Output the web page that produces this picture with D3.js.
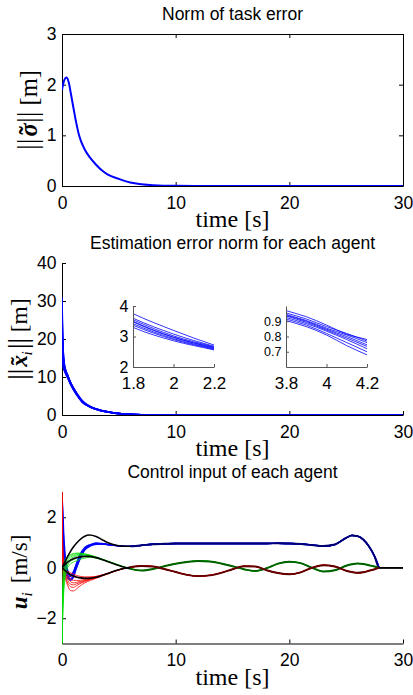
<!DOCTYPE html>
<html><head><meta charset="utf-8">
<script src="https://cdn.jsdelivr.net/npm/d3@7"></script>
<style>body{margin:0;background:#fff}</style>
</head><body>
<svg id="c" width="413" height="695"></svg>
<script>
// ---------- DATA ----------
// Panel 1: norm of task error
const t1 = [0, 0.2, 0.4, 0.6, 0.8, 1.0, 1.25, 1.5, 2, 2.5, 3, 3.5, 4, 5, 6, 7, 8, 10, 15, 30];
const sigmaNorm = [1.9, 2.09, 2.14, 2.04, 1.8, 1.55, 1.25, 1.0, 0.72, 0.55, 0.42, 0.31, 0.23, 0.14, 0.07, 0.035, 0.016, 0.004, 0, 0];

// Panel 2: estimation error norm for each agent
const t2 = [0, 0.05, 0.15, 0.3, 0.5, 0.75, 1, 1.4, 1.8, 2.0, 2.2, 2.6, 3.0, 3.4, 3.8, 3.9, 4.0, 4.1, 4.2, 4.6, 5, 5.5, 6, 7, 8, 10, 30];
const estAgent1 = [31, 22, 15, 12, 10.5, 8.6, 7.2, 5.3, 3.75, 3.2, 2.72, 2.05, 1.6, 1.22, 0.97, 0.93, 0.875, 0.815, 0.78, 0.55, 0.4, 0.26, 0.17, 0.07, 0.03, 0.005, 0];
const estAgent2 = [29, 21, 14.5, 11.5, 10.2, 8.4, 7.0, 5.1, 3.6, 3.08, 2.68, 2.02, 1.58, 1.2, 0.955, 0.915, 0.865, 0.82, 0.77, 0.54, 0.39, 0.25, 0.165, 0.068, 0.03, 0.005, 0];
const estAgent3 = [27, 20, 14, 11.5, 10.0, 8.3, 6.9, 5.0, 3.55, 3.02, 2.66, 2.0, 1.56, 1.19, 0.945, 0.905, 0.855, 0.81, 0.76, 0.535, 0.385, 0.25, 0.16, 0.066, 0.028, 0.005, 0];
const estAgent4 = [25, 19, 13.5, 11.8, 10.3, 8.4, 7.0, 5.1, 3.5, 2.98, 2.64, 1.99, 1.55, 1.18, 0.94, 0.9, 0.848, 0.8, 0.745, 0.53, 0.38, 0.245, 0.16, 0.065, 0.028, 0.004, 0];
const estAgent5 = [22, 18, 13.5, 12, 10.4, 8.5, 7.1, 5.2, 3.48, 2.97, 2.62, 1.98, 1.54, 1.17, 0.935, 0.893, 0.842, 0.79, 0.735, 0.52, 0.375, 0.24, 0.155, 0.064, 0.027, 0.004, 0];
const estAgent6 = [20, 17, 13, 11.2, 9.9, 8.2, 6.8, 4.9, 3.42, 2.93, 2.6, 1.96, 1.53, 1.16, 0.925, 0.885, 0.835, 0.78, 0.72, 0.51, 0.37, 0.24, 0.155, 0.063, 0.027, 0.004, 0];
const estAgent7 = [18, 16, 12.5, 11, 9.8, 8.1, 6.7, 4.85, 3.37, 2.9, 2.58, 1.95, 1.52, 1.15, 0.915, 0.875, 0.82, 0.76, 0.7, 0.5, 0.36, 0.235, 0.15, 0.062, 0.026, 0.004, 0];
const estAgent8 = [15, 14, 12, 11.5, 10, 8.3, 6.9, 5.0, 3.3, 2.86, 2.56, 1.94, 1.5, 1.14, 0.905, 0.865, 0.81, 0.74, 0.68, 0.49, 0.35, 0.23, 0.15, 0.06, 0.025, 0.004, 0];

// Panel 3: control input — reference (black) components
const t3ref = [0, 0.25, 0.5, 0.75, 1, 1.5, 2, 2.4, 3, 3.5, 4, 4.5, 5, 5.5, 6, 7, 8, 9, 10, 11, 12, 13, 14, 15, 16, 17, 18, 19, 20, 21, 22, 23, 24, 25, 25.5, 26, 26.5, 27, 27.5, 27.9, 30];
const refX = [0, 0.22, 0.45, 0.65, 0.82, 1.08, 1.25, 1.3, 1.24, 1.12, 1.0, 0.92, 0.87, 0.85, 0.85, 0.89, 0.93, 0.95, 0.96, 0.96, 0.96, 0.96, 0.96, 0.96, 0.96, 0.96, 0.96, 0.97, 0.96, 0.94, 0.9, 0.86, 0.92, 1.18, 1.28, 1.25, 1.12, 0.85, 0.45, 0, 0];
const refY = [0, 0.12, 0.22, 0.3, 0.36, 0.42, 0.45, 0.45, 0.4, 0.33, 0.25, 0.17, 0.09, 0.02, -0.04, -0.11, -0.05, 0.06, 0.16, 0.23, 0.27, 0.25, 0.17, 0.06, -0.06, -0.13, -0.02, 0.16, 0.24, 0.18, 0.0, -0.15, -0.1, 0.08, 0.14, 0.17, 0.15, 0.1, 0.05, 0, 0];
const refZ = [0, -0.1, -0.2, -0.27, -0.33, -0.39, -0.42, -0.42, -0.38, -0.31, -0.23, -0.15, -0.08, -0.02, 0.02, 0.07, 0.05, -0.05, -0.17, -0.28, -0.33, -0.3, -0.2, -0.06, 0.06, 0.05, -0.1, -0.21, -0.26, -0.18, 0.0, 0.1, 0.05, -0.12, -0.17, -0.2, -0.18, -0.12, -0.06, 0, 0];

// Panel 3: agents' transient (they follow the reference afterwards)
const t3agent = [0, 0.05, 0.15, 0.3, 0.5, 0.75, 1, 1.25, 1.5, 2, 2.5, 3, 3.5, 4, 5, 6];
const blueAgents = [
  [0.2, 2.0, 1.0, 0.2, -0.2, -0.35, -0.2, 0.1, 0.4, 0.76, 0.9, 0.96, 0.95, 0.92, 0.87, 0.85],
  [0.1, 1.5, 0.7, 0.0, -0.3, -0.45, -0.3, 0.0, 0.3, 0.72, 0.88, 0.95, 0.95, 0.92, 0.87, 0.85],
  [0.3, 2.6, 1.4, 0.4, -0.1, -0.3, -0.15, 0.15, 0.45, 0.8, 0.92, 0.98, 0.96, 0.93, 0.87, 0.85],
  [0.0, 1.0, 0.4, -0.15, -0.4, -0.5, -0.38, -0.05, 0.25, 0.7, 0.86, 0.93, 0.94, 0.91, 0.87, 0.85]
];
const greenAgents = [
  [-3.2, -1.0, 0.1, 0.35, 0.45, 0.52, 0.56, 0.58, 0.58, 0.55, 0.5, 0.43, 0.35, 0.27, 0.1, -0.04],
  [-3.0, -1.3, -0.2, 0.2, 0.38, 0.48, 0.53, 0.55, 0.56, 0.54, 0.49, 0.42, 0.34, 0.26, 0.1, -0.04],
  [-3.1, -1.5, -0.4, 0.05, 0.3, 0.42, 0.48, 0.51, 0.53, 0.52, 0.48, 0.41, 0.34, 0.26, 0.1, -0.04],
  [-2.9, -1.8, -0.6, -0.1, 0.2, 0.35, 0.42, 0.46, 0.49, 0.5, 0.47, 0.41, 0.33, 0.26, 0.1, -0.04],
  [-3.3, -2.0, -0.8, -0.2, 0.1, 0.25, 0.32, 0.37, 0.41, 0.45, 0.45, 0.4, 0.33, 0.26, 0.1, -0.04],
  [-3.0, -2.2, -1.0, -0.35, 0.0, 0.15, 0.22, 0.27, 0.32, 0.38, 0.41, 0.38, 0.32, 0.25, 0.1, -0.04]
];
const redAgents = [
  [3.2, 1.2, 0.1, -0.4, -0.7, -0.9, -0.92, -0.85, -0.75, -0.6, -0.5, -0.42, -0.33, -0.25, -0.09, 0.02],
  [3.0, 1.0, 0.0, -0.35, -0.6, -0.75, -0.78, -0.72, -0.65, -0.55, -0.47, -0.4, -0.32, -0.24, -0.08, 0.02],
  [3.1, 0.8, -0.1, -0.3, -0.5, -0.65, -0.68, -0.64, -0.6, -0.52, -0.45, -0.39, -0.31, -0.24, -0.08, 0.02],
  [2.8, 0.6, -0.2, -0.25, -0.4, -0.55, -0.6, -0.58, -0.55, -0.5, -0.43, -0.38, -0.31, -0.23, -0.08, 0.02],
  [3.3, 0.5, -0.3, -0.2, -0.3, -0.45, -0.5, -0.5, -0.5, -0.46, -0.41, -0.37, -0.3, -0.23, -0.08, 0.02],
  [2.5, 0.3, -0.5, -0.1, -0.2, -0.3, -0.35, -0.38, -0.4, -0.4, -0.38, -0.35, -0.29, -0.23, -0.08, 0.02],
  [-0.8, -0.5, -0.3, -0.15, -0.15, -0.2, -0.25, -0.3, -0.33, -0.36, -0.36, -0.34, -0.29, -0.22, -0.08, 0.02]
];

const xTicks = [0, 10, 20, 30];
const yTicks1 = [0, 1, 2, 3];
const yTicks2 = [0, 10, 20, 30, 40];
const yTicks3 = [-2, 0, 2];
const inset1XTicks = [1.8, 2, 2.2], inset1YTicks = [2, 3, 4];
const inset2XTicks = [3.8, 4, 4.2], inset2YTicks = [0.7, 0.8, 0.9];
const titles = ["Norm of task error", "Estimation error norm for each agent", "Control input of each agent"];

// ---------- DRAW ----------
const svg = d3.select("#c");
const SANS = "'Liberation Sans', Arial, Helvetica, sans-serif";
const SERIF = "'Liberation Serif', 'Times New Roman', serif";
const L = 62, R = 403;
const zip = (ts, vs) => ts.map((t, i) => [t, vs[i]]);

function styleAxis(g, color, fs) {
  g.selectAll("path.domain").attr("stroke", color || "#000").attr("stroke-width", 1);
  g.selectAll(".tick line").attr("stroke", color || "#000");
  g.selectAll(".tick text").attr("fill", "#000").style("font-family", SANS).style("font-size", (fs || 17.5) + "px");
}

function panel(top, bottom, ydom, yticks, box, idx, clipId) {
  const x = d3.scaleLinear().domain([0, 30]).range([L, R]);
  const y = d3.scaleLinear().domain(ydom).range([bottom, top]);
  const gx = svg.append("g").attr("transform", `translate(0,${bottom})`)
    .call(d3.axisBottom(x).tickValues(xTicks).tickFormat(d3.format("d")).tickSizeInner(-4).tickSizeOuter(0).tickPadding(10.5));
  styleAxis(gx);
  const gy = svg.append("g").attr("transform", `translate(${L},0)`)
    .call(d3.axisLeft(y).tickValues(yticks).tickFormat(d => d < 0 ? "\u2212" + Math.abs(d) : d).tickSizeInner(-4).tickSizeOuter(0).tickPadding(5.5));
  styleAxis(gy);
  if (box) {
    const gt = svg.append("g").attr("transform", `translate(0,${top})`)
      .call(d3.axisTop(x).tickValues(xTicks).tickFormat("").tickSizeInner(-4).tickSizeOuter(0));
    styleAxis(gt);
    const gr = svg.append("g").attr("transform", `translate(${R},0)`)
      .call(d3.axisRight(y).tickValues(yticks).tickFormat("").tickSizeInner(-4).tickSizeOuter(0));
    styleAxis(gr);
  }
  svg.append("text").attr("x", (L + R) / 2).attr("y", top - 14.5).attr("text-anchor", "middle")
    .style("font-family", SANS).style("font-size", "17.5px").text(titles[idx]);
  svg.append("text").attr("x", (L + R) / 2).attr("y", bottom + 41).attr("text-anchor", "middle")
    .style("font-family", SERIF).style("font-size", "24px").text("time [s]");
  svg.append("clipPath").attr("id", clipId).append("rect")
    .attr("x", L).attr("y", top).attr("width", R - L).attr("height", bottom - top);
  return {x, y};
}

// rotated y label built from pieces: norm bars, bold symbol with tilde, subscript, unit
function ylabel(cx, cy, fs, parts) {
  const t = svg.append("text").attr("transform", `translate(${cx},${cy}) rotate(-90)`)
    .attr("text-anchor", "middle").style("font-family", SERIF).style("font-size", fs + "px");
  parts.forEach(p => {
    const s = t.append("tspan").text(p.t);
    if (p.bar) s.style("font-size", (fs + 4) + "px").attr("dy", p.dy || 0);
    if (p.b) s.style("font-weight", "bold").style("font-style", "italic");
    if (p.tilde) s.style("font-weight", "bold").attr("dx", p.dx);
    if (p.dx && !p.tilde) s.attr("dx", p.dx);
    if (p.i) s.style("font-style", "italic");
    if (p.sub) s.style("font-size", (fs - 8) + "px").attr("dy", p.dy);
    if (p.back) s.attr("dy", p.back);
  });
}

// Panel 1
const p1 = panel(34, 186, [0, 3], yTicks1, true, 0, "clip1");
const line1 = d3.line().x(d => p1.x(d[0])).y(d => p1.y(d[1])).curve(d3.curveMonotoneX);
svg.append("path").datum(zip(t1, sigmaNorm)).attr("d", line1)
  .attr("fill", "none").attr("stroke", "#0000ff").attr("stroke-width", 2).attr("clip-path", "url(#clip1)");
ylabel(37, 110, 24.5, [{t: "||", bar: true}, {t: "\u03C3", b: true, dx: "0.08em"}, {t: "\u02DC", tilde: true, dx: "-0.46em"},
  {t: "||", bar: true, dx: "0.12em"}, {t: " [m]"}]);

// Panel 2
const p2 = panel(263, 415, [0, 40], yTicks2, false, 1, "clip2");
const est = [estAgent1, estAgent2, estAgent3, estAgent4, estAgent5, estAgent6, estAgent7, estAgent8];
const line2 = d3.line().x(d => p2.x(d[0])).y(d => p2.y(d[1])).curve(d3.curveMonotoneX);
est.forEach(a => svg.append("path").datum(zip(t2, a)).attr("d", line2)
  .attr("fill", "none").attr("stroke", "#0000ff").attr("stroke-width", 1.6).attr("clip-path", "url(#clip2)"));
ylabel(27, 339, 23.5, [{t: "||", bar: true}, {t: "x", b: true, dx: "0.08em"}, {t: "\u02DC", tilde: true, dx: "-0.42em"},
  {t: "i", i: true, sub: true, dy: "5", dx: "0.1em"}, {t: "||", bar: true, dy: "-5", dx: "0.08em"}, {t: " [m]"}]);

function inset(x0, x1, y0, y1, xdom, ydom, xt, yt, fmtx, fmty, id, yfs) {
  const x = d3.scaleLinear().domain(xdom).range([x0, x1]);
  const y = d3.scaleLinear().domain(ydom).range([y1, y0]);
  svg.append("clipPath").attr("id", id).append("rect").attr("x", x0).attr("y", y0).attr("width", x1 - x0).attr("height", y1 - y0);
  const ln = d3.line().x(d => x(d[0])).y(d => y(d[1])).curve(d3.curveMonotoneX);
  est.forEach(a => svg.append("path").datum(zip(t2, a)).attr("d", ln)
    .attr("fill", "none").attr("stroke", "#0000ff").attr("stroke-width", 0.8).attr("clip-path", `url(#${id})`));
  const gx = svg.append("g").attr("transform", `translate(0,${y1})`)
    .call(d3.axisBottom(x).tickValues(xt).tickFormat(fmtx).tickSizeInner(-3).tickSizeOuter(0).tickPadding(10));
  styleAxis(gx, "#555", 17);
  const gy = svg.append("g").attr("transform", `translate(${x0},0)`)
    .call(d3.axisLeft(y).tickValues(yt).tickFormat(fmty).tickSizeInner(-3).tickSizeOuter(0).tickPadding(4.5));
  styleAxis(gy, "#555", yfs);
}
inset(133, 214, 306, 367, [1.8, 2.2], [2, 4], inset1XTicks, inset1YTicks, d => String(d), d => String(d), "ins1", 16);
inset(286, 367, 306, 367, [3.8, 4.2], [0.6, 1.0], inset2XTicks, inset2YTicks, d => String(d), d => d.toFixed(1), "ins2", 12.5);

// Panel 3
const p3 = panel(492, 643.5, [-3, 3], yTicks3, false, 2, "clip3");
const line3 = d3.line().x(d => p3.x(d[0])).y(d => p3.y(d[1])).curve(d3.curveMonotoneX);
function agentPts(vals, ref) {
  const last = t3agent[t3agent.length - 1];
  return zip(t3agent, vals).concat(zip(t3ref, ref).filter(d => d[0] > last && d[0] <= 27.9));
}
const g3 = svg.append("g").attr("clip-path", "url(#clip3)");
blueAgents.forEach(a => g3.append("path").datum(agentPts(a, refX)).attr("d", line3)
  .attr("fill", "none").attr("stroke", "#0000ff").attr("stroke-width", 1.3));
redAgents.forEach(a => g3.append("path").datum(agentPts(a, refZ)).attr("d", line3)
  .attr("fill", "none").attr("stroke", "#ff0000").attr("stroke-width", 0.8));
greenAgents.forEach(a => g3.append("path").datum(agentPts(a, refY)).attr("d", line3)
  .attr("fill", "none").attr("stroke", "#00dd00").attr("stroke-width", 0.8));

// reference: black where agents differ, blended colour where they coincide
const cA = svg.append("clipPath").attr("id", "refBlack");
cA.append("rect").attr("x", p3.x(0)).attr("y", 492).attr("width", p3.x(6) - p3.x(0)).attr("height", 152);
cA.append("rect").attr("x", p3.x(27.9)).attr("y", 492).attr("width", p3.x(30) - p3.x(27.9)).attr("height", 152);
svg.append("clipPath").attr("id", "refColor").append("rect")
  .attr("x", p3.x(6)).attr("y", 492).attr("width", p3.x(27.9) - p3.x(6)).attr("height", 152);
const refs = [[refX, "#000070"], [refY, "#006000"], [refZ, "#600000"]];
refs.forEach(([r, col]) => {
  svg.append("path").datum(zip(t3ref, r)).attr("d", line3).attr("fill", "none")
    .attr("stroke", "#000").attr("stroke-width", 1.6).attr("clip-path", "url(#refBlack)");
  svg.append("path").datum(zip(t3ref, r)).attr("d", line3).attr("fill", "none")
    .attr("stroke", col).attr("stroke-width", 1.9).attr("clip-path", "url(#refColor)");
});
ylabel(27, 572, 23, [{t: "u", b: true}, {t: "i", i: true, sub: true, dy: "5"}, {t: "  [m/s]", back: "-5", dx: "0.15em"}]);
</script>
</body></html>
